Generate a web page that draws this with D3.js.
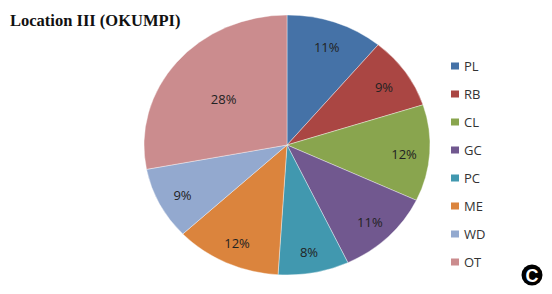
<!DOCTYPE html>
<html>
<head>
<meta charset="utf-8">
<script src="https://cdn.jsdelivr.net/npm/d3@7"></script>
<style>
  body { margin: 0; background: #fff; }
</style>
</head>
<body>
<script>
var width = 552,
    height = 294;

// data
var categories = ["PL", "RB", "CL", "GC", "PC", "ME", "WD", "OT"];
var values = [11, 9, 12, 11, 8, 12, 9, 28];
var colors = ["#4572A7", "#AA4643", "#89A54E", "#71588F", "#4198AF", "#DB843D", "#93A9CF", "#CB8C8E"];

//pie geometry (the pie is a bit squashed vertically)
var cx = 287,
    cy = 145,
    rx = 143,
    ry = 130;

var svg = d3.select("body")
    .append("svg")
    .attr("width", width)
    .attr("height", height);

var data = categories.map(function(c, i) { return {name: c, value: values[i], color: colors[i]}; });

var pie = d3.pie()
    .sort(null)
    .value(function(d) { return d.value; });

var arcs = pie(data);

var arc = d3.arc()
    .innerRadius(0)
    .outerRadius(rx);

// slices
var g_pie = svg.append("g")
    .attr("transform", "translate(" + cx + "," + cy + ") scale(1," + (ry / rx) + ")");

g_pie.selectAll("path")
    .data(arcs)
    .enter().append("path")
    .attr("d", arc)
    .attr("fill", function(d) { return d.data.color; })
    .attr("stroke", "#ffffff")
    .attr("stroke-opacity", 0.5)
    .attr("stroke-width", 0.8);

// percent labels
var labelArc = d3.arc()
    .innerRadius(0)
    .outerRadius(rx * 1.64);

var bigArc = d3.arc()
    .innerRadius(0)
    .outerRadius(rx * 1.15);

svg.append("g").selectAll("text")
    .data(arcs)
    .enter().append("text")
    .attr("x", function(d) {
        var c = (d.data.value > 20 ? bigArc : labelArc).centroid(d);
        return cx + c[0];
    })
    .attr("y", function(d) {
        var c = (d.data.value > 20 ? bigArc : labelArc).centroid(d);
        return cy + c[1] * ry / rx + 7;
    })
    .attr("text-anchor", "middle")
    .attr("font-family", "'Open Sans', sans-serif")
    .attr("font-size", "13px")
    .attr("fill", "#222")
    .text(function(d) { return d.data.value + "%"; });

// legend
var legendY = d3.scalePoint()
    .domain(categories)
    .range([66, 262]);

var g_legend = svg.append("g");
var items = g_legend.selectAll("g")
    .data(data)
    .enter().append("g")
    .attr("transform", function(d) { return "translate(451," + legendY(d.name) + ")"; });

items.append("rect")
    .attr("x", 0)
    .attr("y", -3.5)
    .attr("width", 8)
    .attr("height", 7)
    .attr("fill", function(d) { return d.color; });

items.append("text")
    .attr("x", 13)
    .attr("y", 4.5)
    .attr("font-family", "'Open Sans', sans-serif")
    .attr("font-size", "13px")
    .attr("fill", "#333")
    .text(function(d) { return d.name; });

// title
svg.append("text")
    .attr("x", 10)
    .attr("y", 26)
    .attr("font-family", "'Liberation Serif', 'Times New Roman', serif")
    .attr("font-weight", "bold")
    .attr("font-size", "16.5px")
    .attr("fill", "#111")
    .text("Location III (OKUMPI)");

// panel badge
svg.append("circle")
    .attr("cx", 532)
    .attr("cy", 275)
    .attr("r", 10.5)
    .attr("fill", "#000");

svg.append("text")
    .attr("x", 532)
    .attr("y", 281.5)
    .attr("text-anchor", "middle")
    .attr("font-family", "'Liberation Sans', Arial, sans-serif")
    .attr("font-weight", "bold")
    .attr("font-size", "18px")
    .attr("fill", "#fff")
    .text("C");
</script>
</body>
</html>
